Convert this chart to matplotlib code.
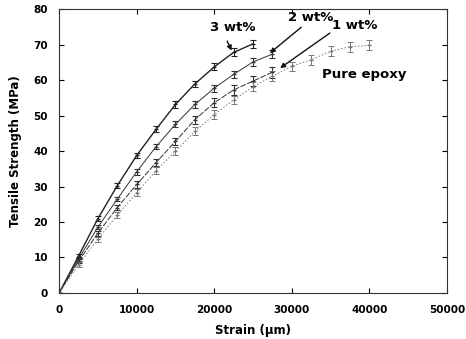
import matplotlib
matplotlib.use("Agg")
import matplotlib.pyplot as plt
import numpy as np

plt.rcParams['font.family'] = ['DejaVu Sans']

# Data (strain in µm, tensile strength in MPa)
strain_3 = [0, 2500, 5000, 7500, 10000, 12500, 15000, 17500, 20000, 22500, 25000]
stress_3 = [0, 10.4, 21.0, 30.3, 38.8, 46.2, 53.2, 59.0, 63.8, 67.9, 70.3]
err_3 = [0, 0.6, 0.6, 0.7, 0.8, 0.8, 0.9, 0.9, 1.0, 1.1, 1.2]

strain_2 = [0, 2500, 5000, 7500, 10000, 12500, 15000, 17500, 20000, 22500, 25000, 27500]
stress_2 = [0, 9.6, 18.6, 26.5, 34.2, 41.3, 47.6, 53.2, 57.8, 61.7, 65.2, 67.4]
err_2 = [0, 0.6, 0.6, 0.7, 0.8, 0.8, 0.9, 0.9, 1.0, 1.0, 1.1, 1.1]

strain_1 = [0, 2500, 5000, 7500, 10000, 12500, 15000, 17500, 20000, 22500, 25000, 27500]
stress_1 = [0, 8.9, 16.9, 24.1, 30.6, 36.8, 42.8, 48.9, 53.7, 57.3, 59.8, 62.3]
err_1 = [0, 0.6, 0.7, 0.8, 0.9, 1.0, 1.0, 1.1, 1.2, 1.3, 1.4, 1.5]

strain_0 = [0, 2500, 5000, 7500, 10000, 12500, 15000, 17500, 20000, 22500, 25000, 27500,
            30000, 32500, 35000, 37500, 40000]
stress_0 = [0, 8.0, 15.2, 22.0, 28.3, 34.5, 40.0, 45.6, 50.3, 54.5, 58.2, 61.2,
            64.0, 65.8, 68.2, 69.5, 69.9]
err_0 = [0, 0.6, 0.7, 0.8, 0.9, 1.0, 1.1, 1.1, 1.2, 1.2, 1.3, 1.3,
         1.3, 1.4, 1.4, 1.4, 1.4]

xticks = [0, 10000, 20000, 30000, 40000, 50000]
yticks = [0, 10, 20, 30, 40, 50, 60, 70, 80]

fig = plt.figure(figsize=(4.66, 3.39), dpi=100)
ax = fig.add_axes([0.127, 0.136, 0.832, 0.836])

ax.errorbar(strain_3, stress_3, yerr=err_3, color='#222222', lw=1.0, capsize=2,
            elinewidth=0.8, capthick=0.8, marker='_', ms=3)
ax.errorbar(strain_2, stress_2, yerr=err_2, color='#333333', lw=0.7, capsize=2,
            elinewidth=0.8, capthick=0.8, marker='_', ms=3)
ax.errorbar(strain_1, stress_1, yerr=err_1, color='#333333', lw=0.7, capsize=2,
            elinewidth=0.8, capthick=0.8, marker='_', ms=3, ls=(0, (6, 1.5)))
ax.errorbar(strain_0, stress_0, yerr=err_0, color='#777777', lw=0.7, capsize=2,
            elinewidth=0.7, capthick=0.7, marker='_', ms=3, ls=(0, (1.5, 2)))

ax.set_xlim(0, 50000)
ax.set_ylim(0, 80)
ax.set_xticks(xticks)
ax.set_yticks(yticks)
ax.set_xticklabels([str(t) for t in xticks], fontsize=7.5, fontweight='bold')
ax.set_yticklabels([str(t) for t in yticks], fontsize=7.5, fontweight='bold')
ax.tick_params(axis='x', direction='in', top=True, length=3.5, width=0.8, pad=9)
ax.tick_params(axis='y', direction='in', right=True, length=3.5, width=0.8, pad=8)
for s in ax.spines.values():
    s.set_linewidth(0.8)
    s.set_color('#333333')

ax.set_xlabel('Strain (μm)', fontsize=8.5, fontweight='bold', labelpad=6)
ax.set_ylabel('Tensile Strength (MPa)', fontsize=8.5, fontweight='bold', labelpad=8)

ap = dict(arrowstyle='-|>', color='#111111', lw=1.0, mutation_scale=7)
ax.text(22350, 74.9, '3 wt%', fontsize=9.5, fontweight='bold', ha='center', va='center')
ax.annotate('', xy=(22400, 67.7), xytext=(21500, 71.8), arrowprops=ap)
ax.text(32400, 77.7, '2 wt%', fontsize=9.5, fontweight='bold', ha='center', va='center')
ax.annotate('', xy=(26900, 67.2), xytext=(31500, 75.5), arrowprops=ap)
ax.text(38100, 75.4, '1 wt%', fontsize=9.5, fontweight='bold', ha='center', va='center')
ax.annotate('', xy=(28200, 63.0), xytext=(35200, 73.8), arrowprops=ap)
ax.text(39300, 61.6, 'Pure epoxy', fontsize=9.5, fontweight='bold',
        ha='center', va='center')

fig.savefig('out.png', dpi=100)
